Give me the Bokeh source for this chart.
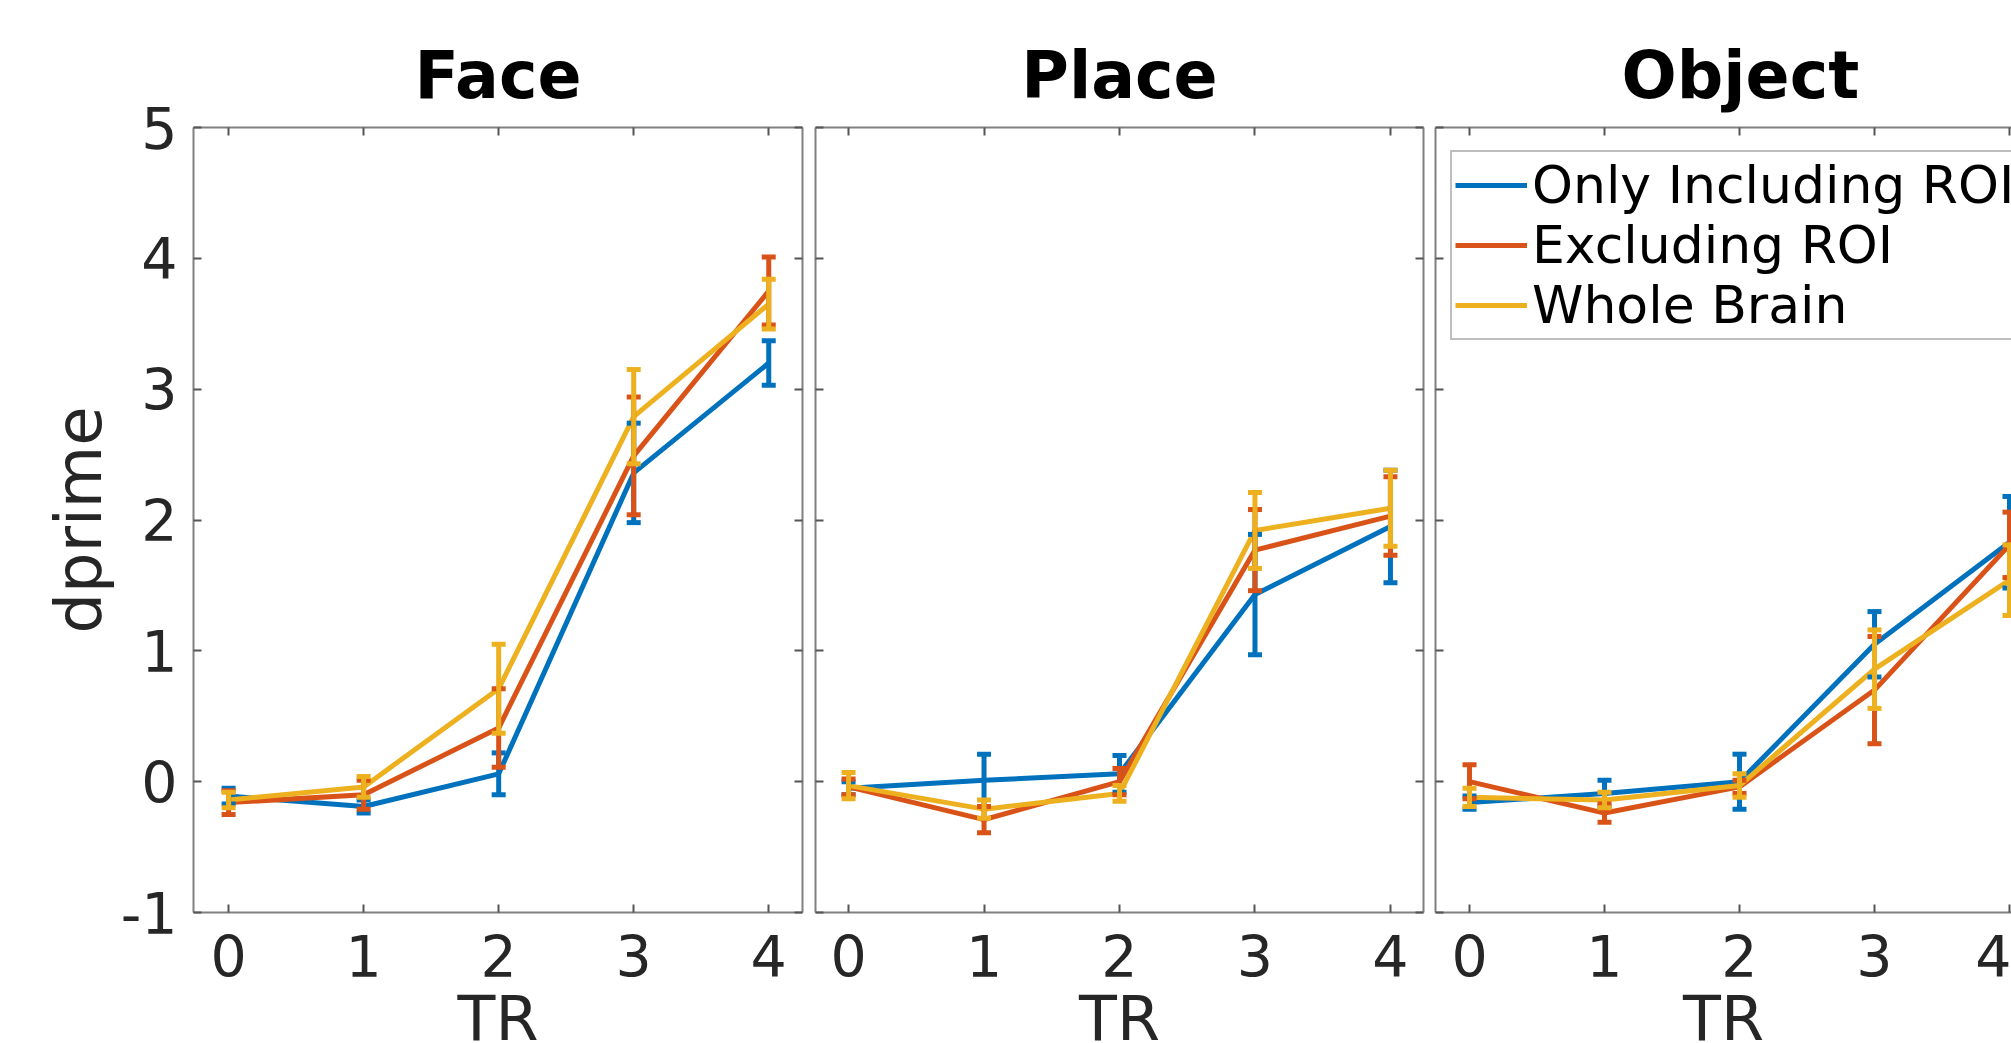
from bokeh.plotting import figure
from bokeh.models import (ColumnDataSource, Whisker, TeeHead, LinearAxis, Range1d,
                          FixedTicker, Legend, LegendItem)
from bokeh.layouts import row
from bokeh.embed import file_html
from bokeh.resources import INLINE

# ---------------- data ----------------
TR = [0, 1, 2, 3, 4]
panel_titles = ["Face", "Place", "Object"]
series_names = ["Only Including ROI", "Excluding ROI", "Whole Brain"]
series_colors = ["#0072BD", "#D95319", "#EDB120"]
y_ticks = [-1, 0, 1, 2, 3, 4, 5]
x_label = "TR"
y_label = "dprime"

face_only = [-0.11, -0.19, 0.06, 2.36, 3.20]
face_only_err = [0.06, 0.05, 0.16, 0.38, 0.17]
face_excl = [-0.16, -0.10, 0.41, 2.49, 3.75]
face_excl_err = [0.09, 0.11, 0.30, 0.45, 0.26]
face_whole = [-0.14, -0.04, 0.71, 2.79, 3.65]
face_whole_err = [0.06, 0.08, 0.34, 0.36, 0.19]

place_only = [-0.05, 0.01, 0.06, 1.43, 1.95]
place_only_err = [0.05, 0.20, 0.14, 0.46, 0.43]
place_excl = [-0.04, -0.29, 0.00, 1.77, 2.03]
place_excl_err = [0.06, 0.10, 0.10, 0.31, 0.30]
place_whole = [-0.03, -0.21, -0.09, 1.92, 2.09]
place_whole_err = [0.10, 0.07, 0.06, 0.29, 0.29]

object_only = [-0.16, -0.09, 0.00, 1.05, 1.83]
object_only_err = [0.05, 0.10, 0.21, 0.25, 0.35]
object_excl = [0.00, -0.24, -0.04, 0.70, 1.81]
object_excl_err = [0.13, 0.07, 0.05, 0.41, 0.25]
object_whole = [-0.12, -0.14, -0.03, 0.86, 1.54]
object_whole_err = [0.07, 0.06, 0.09, 0.30, 0.27]

panel_values = [
    [face_only, face_excl, face_whole],
    [place_only, place_excl, place_whole],
    [object_only, object_excl, object_whole],
]
panel_errors = [
    [face_only_err, face_excl_err, face_whole_err],
    [place_only_err, place_excl_err, place_whole_err],
    [object_only_err, object_excl_err, object_whole_err],
]

# ---------------- style / layout ----------------
FONT = "DejaVu Sans"
TEXT = "#262626"
BOX = "#808080"
TICK_FS = "57px"
TITLE_FS = "65px"
LABEL_FS = "62px"
YLABEL_FS = "64px"
LEGEND_FS = "52px"

FRAME_H = 785
TOP_B = 127
BOTTOM_B = 131
layout_specs = [
    dict(xr=(-0.26, 4.25), fw=609, bl=193, br=6, ylab=True, right=True,
         talign="center", toff=0),
    dict(xr=(-0.244, 4.244), fw=608, bl=7, br=6, ylab=False, right=True,
         talign="center", toff=0),
    # third panel is cut by the right edge, as in the original: its title is
    # placed so that it stays centred on the full (uncut) panel
    dict(xr=(-0.252, 4.015), fw=576, bl=6, br=0, ylab=False, right=False,
         talign="left", toff=186),
]


def add_box_axis(p, side, ticks, labels):
    ax = LinearAxis(ticker=FixedTicker(ticks=ticks))
    ax.axis_line_color = BOX
    ax.axis_line_width = 2
    ax.major_tick_in = 8
    ax.major_tick_out = 0
    ax.major_tick_line_color = "#555555"
    ax.major_tick_line_width = 2
    ax.minor_tick_line_color = None
    if labels:
        ax.major_label_text_font = FONT
        ax.major_label_text_font_size = TICK_FS
        ax.major_label_text_color = TEXT
        ax.major_label_standoff = 16 if side == "left" else 22
        ax.major_label_overrides = {t: str(t) for t in ticks}
    else:
        ax.major_label_text_font_size = "0px"
        ax.major_label_text_color = None
        ax.major_label_standoff = 0
    p.add_layout(ax, side)
    return ax


figs = []
for i, spec in enumerate(layout_specs):
    p = figure(frame_width=spec["fw"], frame_height=FRAME_H,
               height=TOP_B + FRAME_H + BOTTOM_B,
               x_range=Range1d(*spec["xr"]), y_range=Range1d(-1, 5),
               x_axis_location=None, y_axis_location=None,
               min_border_left=spec["bl"], min_border_right=spec["br"],
               min_border_top=TOP_B, min_border_bottom=BOTTOM_B,
               title=panel_titles[i],
               output_backend="svg", toolbar_location=None)
    p.outline_line_color = None
    p.xgrid.visible = False
    p.ygrid.visible = False
    p.background_fill_color = "white"
    p.border_fill_color = "white"

    p.title.align = spec["talign"]
    p.title.text_font = FONT
    p.title.text_font_size = TITLE_FS
    p.title.text_font_style = "bold"
    p.title.text_color = "black"
    p.title.standoff = 30
    p.title.offset = spec["toff"]

    xb = add_box_axis(p, "below", TR, True)
    xb.axis_label = x_label
    xb.axis_label_text_font = FONT
    xb.axis_label_text_font_size = LABEL_FS
    xb.axis_label_text_font_style = "normal"
    xb.axis_label_text_color = TEXT
    xb.axis_label_standoff = 2
    add_box_axis(p, "above", TR, False)
    yl = add_box_axis(p, "left", y_ticks, spec["ylab"])
    if i == 0:
        yl.axis_label = y_label
        yl.axis_label_text_font = FONT
        yl.axis_label_text_font_size = YLABEL_FS
        yl.axis_label_text_font_style = "normal"
        yl.axis_label_text_color = TEXT
        yl.axis_label_standoff = 2
    if spec["right"]:
        add_box_axis(p, "right", y_ticks, False)

    line_renderers = []
    for vals, errs, color in zip(panel_values[i], panel_errors[i], series_colors):
        src = ColumnDataSource(dict(
            x=TR, y=vals,
            upper=[v + e for v, e in zip(vals, errs)],
            lower=[v - e for v, e in zip(vals, errs)],
        ))
        w = Whisker(base="x", upper="upper", lower="lower", source=src,
                    line_color=color, line_width=5, level="glyph",
                    upper_head=TeeHead(size=14, line_color=color, line_width=5),
                    lower_head=TeeHead(size=14, line_color=color, line_width=5))
        p.add_layout(w)
        r = p.line("x", "y", source=src, line_color=color, line_width=5)
        line_renderers.append(r)

    if i == 2:
        legend = Legend(items=[LegendItem(label=n, renderers=[r])
                               for n, r in zip(series_names, line_renderers)],
                        location=(15, 572))
        legend.label_text_font = FONT
        legend.label_text_font_size = LEGEND_FS
        legend.label_text_color = "black"
        legend.glyph_width = 72
        legend.glyph_height = 60
        legend.label_height = 60
        legend.label_standoff = 5
        legend.spacing = 0
        legend.padding = 3
        legend.margin = 0
        legend.border_line_color = BOX
        legend.border_line_width = 2
        legend.background_fill_color = "white"
        legend.background_fill_alpha = 1.0
        p.add_layout(legend, "center")
    figs.append(p)

layout = row(*figs, spacing=0)
open("out.html", "w").write(file_html(layout, INLINE))
